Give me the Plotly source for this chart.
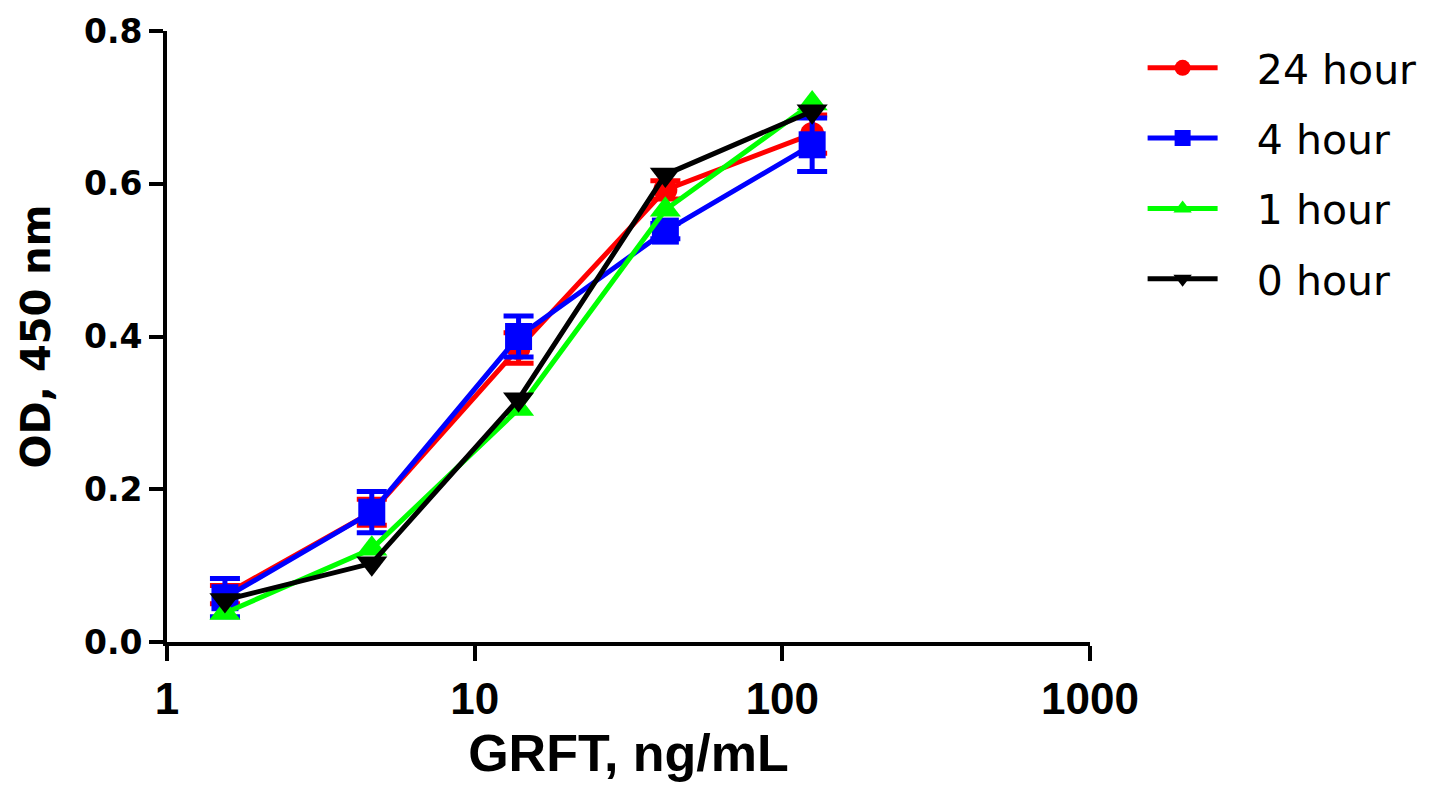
import plotly.graph_objects as go

conc = [1.543, 4.63, 13.89, 41.67, 125.0]

od_24h = [0.062, 0.170, 0.385, 0.592, 0.665]
err_24h = [0.012, 0.017, 0.020, 0.012, 0.025]
od_4h = [0.058, 0.170, 0.400, 0.538, 0.651]
err_4h = [0.025, 0.027, 0.027, 0.010, 0.035]
od_1h = [0.038, 0.122, 0.305, 0.566, 0.705]
od_0h = [0.055, 0.103, 0.318, 0.612, 0.695]

series = [
    ("24 hour", od_24h, err_24h, "#ff0000", "circle", 24),
    ("4 hour", od_4h, err_4h, "#0000ff", "square", 27),
    ("1 hour", od_1h, None, "#00ff00", "triangle-up", 27),
    ("0 hour", od_0h, None, "#000000", "triangle-down", 27),
]

PAD = "\u00a0\u00a0\u2009"

fig = go.Figure()
for i, (name, y, err, color, sym, msize) in enumerate(series):
    kw = {}
    if err is not None:
        kw["error_y"] = dict(type="data", array=err, visible=True,
                             color=color, thickness=5, width=15)
    fig.add_trace(go.Scatter(
        x=conc, y=y, name=PAD + name, mode="lines+markers",
        line=dict(color=color, width=5),
        marker=dict(color=color, symbol=sym, size=msize),
        legendgroup=f"g{i}",
        **kw,
    ))

fig.update_layout(
    width=1449, height=789,
    margin=dict(l=167, r=359, t=19, b=147),
    paper_bgcolor="white", plot_bgcolor="white",
    font=dict(family="Liberation Sans, Arial, sans-serif", color="black"),
    legend=dict(
        x=1.057, y=0.994, xanchor="left", yanchor="top",
        font=dict(size=41, family="DejaVu Sans, Liberation Sans, Arial, sans-serif", color="black"),
        itemwidth=70, tracegroupgap=14, traceorder="grouped",
        bgcolor="rgba(0,0,0,0)",
    ),
    showlegend=True,
)

fig.update_xaxes(
    type="log", range=[0, 3],
    tickvals=[1, 10, 100, 1000], ticktext=["1", "10", "100", "1000"],
    showline=True, linecolor="black", linewidth=4,
    ticks="outside", ticklen=15, tickwidth=4, tickcolor="black",
    showgrid=False, zeroline=False,
    tickfont=dict(family="Liberation Sans, Arial, sans-serif", size=44, color="black", weight="bold"),
    title=dict(text="<b>GRFT, ng/mL</b>", font=dict(family="Liberation Sans, Arial, sans-serif", size=52, color="black"), standoff=14),
)
fig.update_yaxes(
    range=[0, 0.8],
    tickvals=[0.0, 0.2, 0.4, 0.6, 0.8], ticktext=["0.0", "0.2", "0.4", "0.6", "0.8"],
    showline=True, linecolor="black", linewidth=4,
    ticks="outside", ticklen=14, tickwidth=4, tickcolor="black",
    showgrid=False, zeroline=False, ticklabeloverflow="allow",
    tickfont=dict(family="DejaVu Sans, Liberation Sans, Arial, sans-serif", size=33, color="black", weight="bold"),
    title=dict(text="<b>OD, 450 nm</b>", font=dict(family="DejaVu Sans, Liberation Sans, Arial, sans-serif", size=40, color="black"), standoff=22),
)

fig.write_html("out.html")
